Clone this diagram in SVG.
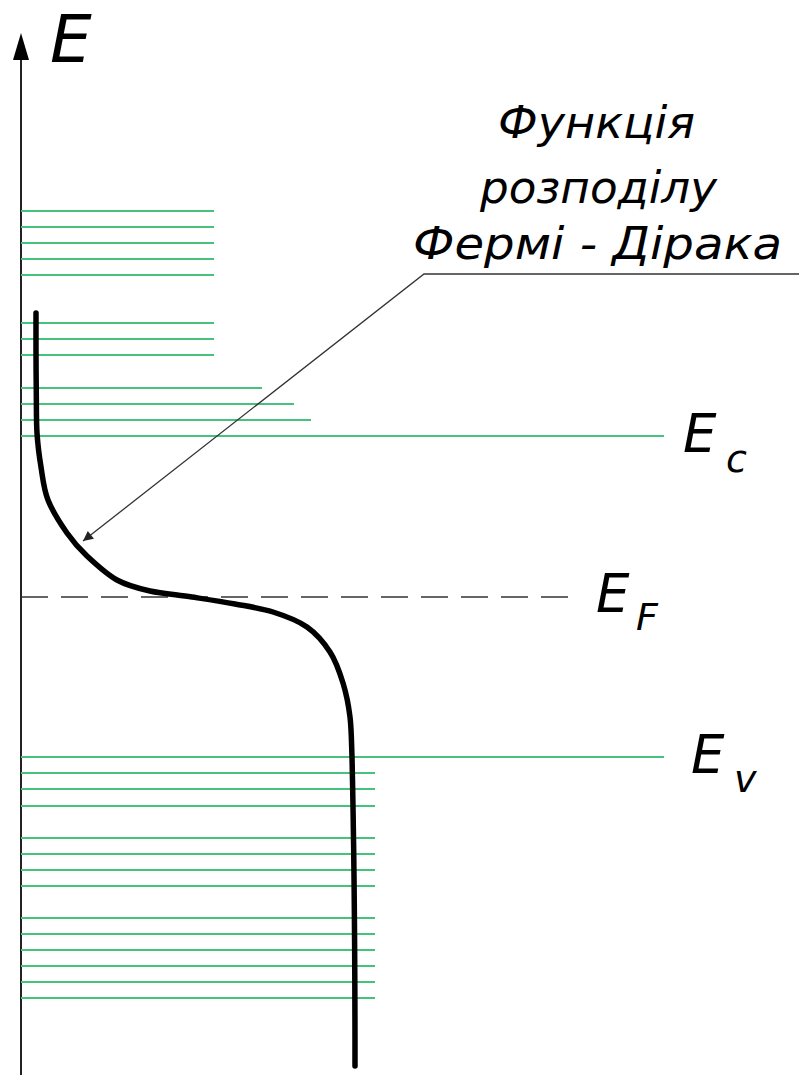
<svg xmlns="http://www.w3.org/2000/svg" width="799" height="1075" viewBox="0 0 799 1075">
<style>
.lvl{stroke:#45c27c;stroke-width:2;fill:none}
.lbl{font-family:"DejaVu Sans","Liberation Sans",sans-serif;font-style:italic;fill:#000}
</style>
<defs>
<marker id="ah" viewBox="0 0 10 10" refX="10" refY="5" markerWidth="14" markerHeight="10" markerUnits="userSpaceOnUse" orient="auto">
<path d="M0,0 L10,5 L0,10 z" fill="#222"/>
</marker>
</defs>
<rect width="799" height="1075" fill="#fff"/>
<g id="axis">
<line x1="21" y1="1075" x2="21" y2="55" stroke="#222" stroke-width="2"/>
<path d="M21,33 L29,60 L13,60 z" fill="#000"/>
<text class="lbl" x="50" y="62" font-size="66">E</text>
</g>
<g id="conduction-band">
<line class="lvl" x1="21" y1="211" x2="214" y2="211"/>
<line class="lvl" x1="21" y1="227" x2="214" y2="227"/>
<line class="lvl" x1="21" y1="243" x2="214" y2="243"/>
<line class="lvl" x1="21" y1="259" x2="214" y2="259"/>
<line class="lvl" x1="21" y1="275" x2="214" y2="275"/>
<line class="lvl" x1="21" y1="323" x2="214" y2="323"/>
<line class="lvl" x1="21" y1="339" x2="214" y2="339"/>
<line class="lvl" x1="21" y1="355" x2="214" y2="355"/>
<line class="lvl" x1="21" y1="388" x2="262" y2="388"/>
<line class="lvl" x1="21" y1="404" x2="294" y2="404"/>
<line class="lvl" x1="21" y1="420" x2="311" y2="420"/>
<line class="lvl" x1="21" y1="436" x2="664" y2="436"/>
</g>
<g id="valence-band">
<line class="lvl" x1="21" y1="757" x2="664" y2="757"/>
<line class="lvl" x1="21" y1="773" x2="375" y2="773"/>
<line class="lvl" x1="21" y1="789" x2="375" y2="789"/>
<line class="lvl" x1="21" y1="806" x2="375" y2="806"/>
<line class="lvl" x1="21" y1="838" x2="375" y2="838"/>
<line class="lvl" x1="21" y1="854" x2="375" y2="854"/>
<line class="lvl" x1="21" y1="870" x2="375" y2="870"/>
<line class="lvl" x1="21" y1="886" x2="375" y2="886"/>
<line class="lvl" x1="21" y1="918" x2="375" y2="918"/>
<line class="lvl" x1="21" y1="934" x2="375" y2="934"/>
<line class="lvl" x1="21" y1="950" x2="375" y2="950"/>
<line class="lvl" x1="21" y1="966" x2="375" y2="966"/>
<line class="lvl" x1="21" y1="982" x2="375" y2="982"/>
<line class="lvl" x1="21" y1="998" x2="375" y2="998"/>
</g>
<g id="fermi-level">
<line x1="21" y1="597" x2="568" y2="597" stroke="#333" stroke-width="1.6" stroke-dasharray="27 13"/>
</g>
<g id="fermi-curve">
<path d="M36,313 C36,319.7 35.95,339.7 36,353 C36.05,366.3 36.13,379.7 36.3,393 C36.47,406.3 36.22,420.7 37,433 C37.78,445.3 39.17,455.8 41,467 C42.83,478.2 43.67,489 48,500 C52.33,511 60.5,523.7 67,533 C73.5,542.3 78.67,548.2 87,556 C95.33,563.8 106.5,574.2 117,580 C127.5,585.8 137.5,588.2 150,591 C162.5,593.8 177.8,594.8 192,597 C206.2,599.2 221.5,601.5 235,604 C248.5,606.5 261,608.2 273,612 C285,615.8 297.5,620.3 307,627 C316.5,633.7 324,642.7 330,652 C336,661.3 339.67,672.2 343,683 C346.33,693.8 348.5,704.7 350,717 C351.5,729.3 351.5,743.7 352,757 C353,800 355,950 355,1066" fill="none" stroke="#000" stroke-width="5.5" stroke-linecap="round" stroke-linejoin="round"/>
</g>
<g id="labels">
<text class="lbl" x="683" y="452" font-size="53">E</text>
<text class="lbl" x="726" y="472" font-size="38">c</text>
<text class="lbl" x="596" y="612" font-size="53">E</text>
<text class="lbl" x="636" y="630" font-size="38">F</text>
<text class="lbl" x="691" y="773" font-size="53">E</text>
<text class="lbl" x="734" y="792" font-size="38">v</text>
</g>
<g id="title">
<text class="lbl" x="498" y="138" font-size="44" textLength="197" lengthAdjust="spacingAndGlyphs">Функція</text>
<text class="lbl" x="480" y="203" font-size="44" textLength="237" lengthAdjust="spacingAndGlyphs">розподілу</text>
<text class="lbl" x="413" y="259" font-size="44" textLength="369" lengthAdjust="spacingAndGlyphs">Фермі - Дірака</text>
</g>
<g id="connectors">
<polyline points="799,274 424,274 83,541" fill="none" stroke="#333" stroke-width="1.3" marker-end="url(#ah)"/>
</g>
</svg>
